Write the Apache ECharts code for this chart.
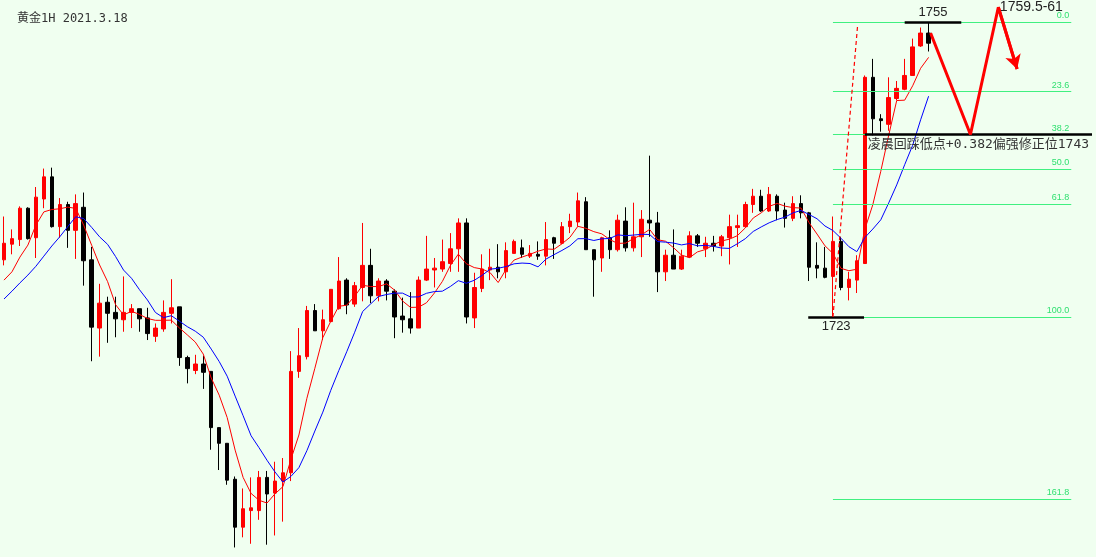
<!DOCTYPE html>
<html><head><meta charset="utf-8">
<script src="https://cdn.jsdelivr.net/npm/echarts@6/dist/echarts.min.js"></script>
<style>html,body{margin:0;padding:0;background:#f0fff0;}#c{width:1096px;height:557px;}</style>
</head><body><div id="c"></div>
<script>
// Gold 1H candles: open / close / low / high
const openP = [
1729.2,1730.9,1731.4,1734.8,1731.6,1735.8,1738.2,1732.8,1735.2,1732.4,
1734.9,1729.2,1721.8,1724.6,1723.5,1722.7,1723.5,1723.9,1722.9,1720.9,
1721.7,1723.4,1724.1,1718.6,1717.2,1717.9,1717.1,1711.0,1709.3,1705.4,
1700.2,1702.0,1702.0,1705.6,1703.9,1705.2,1706.1,1717.1,1718.7,1723.7,
1721.5,1722.5,1723.9,1727.0,1724.4,1726.2,1728.6,1725.3,1726.9,1725.8,
1723.1,1722.8,1721.8,1727.0,1728.1,1728.2,1728.8,1730.4,1733.2,1722.9,
1726.1,1728.1,1728.4,1727.9,1729.9,1730.5,1729.6,1729.8,1729.6,1731.6,
1731.0,1732.8,1733.3,1735.5,1730.3,1729.4,1731.6,1730.3,1733.4,1730.5,
1731.7,1733.5,1733.2,1727.9,1729.7,1728.2,1729.5,1731.8,1730.4,1731.0,
1730.7,1731.6,1732.7,1732.8,1735.2,1736.1,1734.5,1736.1,1734.6,1733.7,
1735.3,1734.3,1728.6,1728.3,1727.4,1731.2,1726.2,1727.0,1728.8,1749.0,
1744.5,1743.9,1746.7,1747.7,1749.2,1752.4,1753.8];
const closeP = [
1731.0,1731.5,1734.8,1731.5,1736.0,1738.2,1732.8,1735.2,1732.4,1735.3,
1729.1,1721.9,1724.5,1723.4,1722.8,1723.5,1723.9,1722.8,1721.2,1721.8,
1723.5,1724.0,1718.6,1717.4,1717.9,1717.0,1711.0,1709.3,1705.3,1700.2,
1702.2,1702.3,1705.6,1703.8,1705.2,1706.1,1717.1,1718.8,1723.7,1721.5,
1722.7,1726.0,1726.9,1724.3,1726.4,1728.6,1725.3,1726.9,1725.8,1723.0,
1722.7,1721.8,1727.0,1728.2,1728.3,1729.0,1730.4,1733.2,1723.0,1726.2,
1728.2,1728.4,1727.9,1730.2,1731.2,1729.8,1729.9,1729.6,1731.4,1731.0,
1732.8,1733.4,1735.6,1730.3,1729.2,1731.6,1730.3,1733.5,1730.5,1731.7,
1733.6,1733.2,1727.9,1729.7,1728.2,1729.6,1731.8,1731.0,1731.0,1730.7,
1731.7,1732.8,1732.9,1735.2,1736.1,1734.5,1736.3,1734.5,1733.7,1735.3,
1734.3,1728.4,1728.3,1727.3,1731.2,1726.2,1727.1,1729.1,1749.0,1744.5,
1744.3,1746.8,1747.8,1749.2,1752.3,1753.8,1752.7];
const lowP = [
1728.6,1729.8,1730.7,1731.4,1729.4,1734.8,1732.7,1731.6,1730.5,1729.3,
1726.4,1718.2,1718.7,1720.2,1720.8,1721.4,1721.8,1721.4,1720.5,1720.3,
1721.4,1722.3,1717.7,1715.8,1716.8,1715.2,1708.6,1706.4,1704.8,1698.0,
1699.1,1698.4,1701.0,1698.3,1699.3,1700.8,1705.2,1716.4,1718.4,1721.5,
1720.5,1722.5,1723.8,1723.3,1724.1,1724.7,1724.5,1724.7,1724.8,1720.7,
1721.3,1721.2,1721.8,1726.9,1726.2,1727.9,1727.9,1727.9,1722.3,1721.8,
1725.7,1727.0,1727.2,1727.2,1729.9,1729.4,1729.4,1729.2,1728.6,1729.3,
1730.9,1732.1,1732.8,1730.3,1725.2,1727.9,1729.3,1730.1,1730.1,1730.1,
1729.5,1731.7,1725.7,1726.9,1728.2,1728.1,1729.4,1730.6,1729.5,1730.1,
1729.6,1728.7,1730.6,1732.7,1734.3,1734.4,1734.4,1733.5,1732.7,1733.4,
1733.7,1726.9,1727.2,1727.2,1723.0,1725.9,1724.8,1725.6,1728.8,1742.7,
1743.1,1743.2,1746.5,1747.6,1749.2,1752.3,1751.8];
const highP = [
1733.9,1732.5,1735.0,1734.9,1737.1,1739.1,1739.2,1735.9,1735.5,1736.3,
1736.5,1730.6,1726.6,1725.2,1725.2,1727.4,1724.4,1723.9,1724.0,1722.3,
1724.8,1727.1,1724.1,1718.8,1718.9,1718.8,1717.1,1711.0,1709.3,1705.7,
1704.4,1705.6,1706.3,1706.3,1707.3,1707.7,1719.3,1721.8,1724.2,1724.4,
1723.8,1726.0,1729.5,1727.2,1726.8,1733.2,1730.4,1727.2,1727.1,1726.0,
1725.1,1725.7,1727.4,1731.8,1729.4,1731.4,1732.1,1733.7,1733.7,1727.8,
1729.8,1730.4,1730.9,1731.1,1731.4,1731.4,1730.8,1731.2,1733.3,1731.7,
1733.3,1734.2,1736.5,1736.0,1730.3,1731.7,1732.4,1734.1,1734.9,1735.4,
1734.6,1740.5,1734.4,1730.3,1732.5,1730.3,1732.3,1732.0,1731.7,1731.8,
1731.9,1734.1,1734.1,1735.5,1736.9,1736.8,1737.1,1736.3,1735.4,1736.1,
1736.2,1734.4,1731.1,1730.6,1733.9,1731.7,1727.9,1729.7,1749.2,1751.0,
1745.0,1749.0,1748.6,1751.0,1753.2,1754.4,1755.0];
// Moving-average values at the left edge (earlier bars are off-screen)
const ma5Start = [1727.0, 1727.9, 1729.5, 1730.8];
const ma10Start = [1724.95, 1725.8, 1726.7, 1727.55, 1728.5, 1729.6, 1730.7, 1731.7, 1732.8];
// Fibonacci retracement between the swing high and low
const fibHigh = 1755, fibLow = 1723;
const fibRatios = [0, 23.6, 38.2, 50, 61.8, 100, 161.8];
const fibLabels = ['0.0', '23.6', '38.2', '50.0', '61.8', '100.0', '161.8'];
const fibFromBar = 104, fibToBar = 133.9;
// Projected path (bar index, price)
const zigzag = [[116.25, 1753.8], [121.25, 1742.8], [124.75, 1756.6], [127.1, 1749.9]];
const slotCount = 137;

const categories = [];
for (let i = 0; i < slotCount; i++) categories.push(String(i));
const kData = openP.map((o, i) => [o, closeP[i], lowP[i], highP[i]]);
function movingAvg(n, start) {
  const out = [];
  for (let i = 0; i < closeP.length; i++) {
    if (i < n - 1) { out.push(start[i]); continue; }
    let s = 0;
    for (let j = i - n + 1; j <= i; j++) s += closeP[j];
    out.push(+(s / n).toFixed(2));
  }
  return out;
}
const ma5 = movingAvg(5, ma5Start);
const ma10 = movingAvg(10, ma10Start);

const green = '#40f080';
const fibLines = fibRatios.map((r, i) => {
  const p = fibHigh - (fibHigh - fibLow) * r / 100;
  return [
    { coord: [fibFromBar, p], label: { show: true, formatter: fibLabels[i], position: 'insideEndTop', distance: 2, color: '#30e070', fontSize: 9, fontFamily: 'Liberation Sans' } },
    { coord: [fibToBar, p] }
  ];
});
const level382 = fibHigh - (fibHigh - fibLow) * 0.382;
const monoCJK = "'DejaVu Sans Mono', 'Noto Sans CJK SC', monospace";

const chart = echarts.init(document.getElementById('c'), null, { renderer: 'canvas' });
chart.setOption({
  animation: false,
  backgroundColor: '#f0fff0',
  title: { text: '黄金1H 2021.3.18', left: 12, top: 8, textStyle: { fontSize: 12, fontWeight: 'normal', color: '#333', fontFamily: monoCJK } },
  grid: { left: -4, right: 4, top: 0, bottom: 0 },
  xAxis: [
    { type: 'category', data: categories, show: false, boundaryGap: true },
    { type: 'value', min: -0.5, max: slotCount - 0.5, show: false }
  ],
  yAxis: { type: 'value', min: 1696.966, max: 1757.386, show: false, splitLine: { show: false } },
  series: [
    { type: 'line', xAxisIndex: 1, data: [], silent: true, z: 1,
      markLine: { silent: true, symbol: ['none', 'none'], lineStyle: { color: green, width: 1, type: 'solid' }, data: fibLines } },
    { type: 'candlestick', data: kData, barWidth: 4, z: 3,
      itemStyle: { color: '#ff0000', color0: '#000000', borderColor: '#ff0000', borderColor0: '#000000', borderWidth: 1 } },
    { type: 'line', data: ma5, showSymbol: false, symbol: 'none', lineStyle: { color: '#ff0000', width: 1 }, z: 4 },
    { type: 'line', data: ma10, showSymbol: false, symbol: 'none', lineStyle: { color: '#0000ff', width: 1 }, z: 4 },
    { type: 'line', xAxisIndex: 1, data: zigzag, showSymbol: false, symbol: 'none', z: 5,
      lineStyle: { color: '#ff0000', width: 3 },
      markPoint: { silent: true, symbol: 'circle', symbolSize: 1, itemStyle: { color: 'rgba(0,0,0,0)' },
        data: [{ coord: zigzag[2], label: { show: true, position: 'right', distance: 1, formatter: '1759.5-61', color: '#222', fontSize: 14, fontFamily: 'Liberation Sans' } }] },
      markLine: { silent: true, symbol: ['none', 'none'], data: [
        [{ coord: zigzag[2], symbol: 'none', lineStyle: { color: '#ff0000', width: 3, type: 'solid' } }, { coord: zigzag[3], symbol: 'arrow', symbolSize: [12, 14] }],
        [{ coord: [113, fibHigh], lineStyle: { color: '#000', width: 2.5, type: 'solid' }, label: { show: true, position: 'insideMiddleTop', distance: 3, formatter: '1755', color: '#222', fontSize: 13, fontFamily: 'Liberation Sans' } }, { coord: [120.1, fibHigh] }],
        [{ coord: [100.9, fibLow], lineStyle: { color: '#000', width: 2.5, type: 'solid' }, label: { show: true, position: 'insideMiddleBottom', distance: 3, formatter: '1723', color: '#222', fontSize: 13, fontFamily: 'Liberation Sans' } }, { coord: [107.9, fibLow] }],
        [{ coord: [108, level382], lineStyle: { color: '#000', width: 2.5, type: 'solid' }, label: { show: true, position: 'insideStartBottom', distance: 3, formatter: '凌晨回踩低点+0.382偏强修正位1743', color: '#333', fontSize: 13, fontFamily: monoCJK } }, { coord: [136.5, level382] }],
        [{ coord: [104, fibLow], lineStyle: { color: '#ff0000', width: 1.2, type: [4, 3] } }, { coord: [107.1, 1754.7] }]
      ] } }
  ]
});
</script></body></html>
